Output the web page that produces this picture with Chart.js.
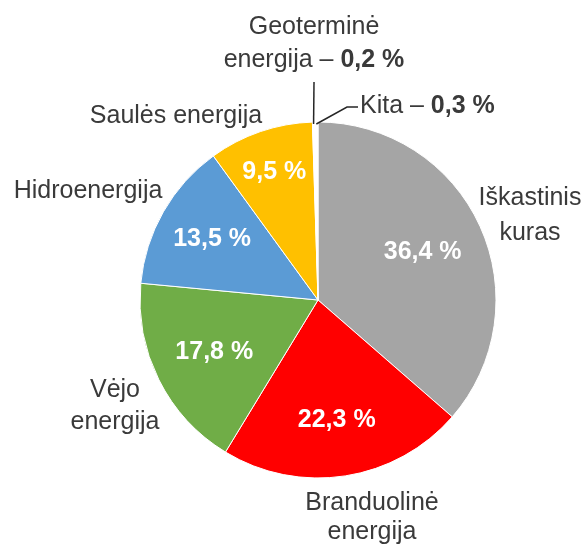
<!DOCTYPE html>
<html><head><meta charset="utf-8">
<script src="https://cdn.jsdelivr.net/npm/chart.js@4/dist/chart.umd.min.js"></script>
<style>html,body{margin:0;padding:0;background:#fff;} #wrap{width:584px;height:546px;}</style>
</head><body><div id="wrap"><canvas id="c" width="584" height="546"></canvas></div>
<script>
// ---- data ----
const categories = ['Iškastinis kuras', 'Branduolinė energija', 'Vėjo energija', 'Hidroenergija', 'Saulės energija', 'Geoterminė energija', 'Kita'];
const shares = [36.4, 22.3, 17.8, 13.5, 9.5, 0.2, 0.3];
// label text lines ({v} = bold value)
const outerLabelLines = [
  ['Iškastinis', 'kuras'],
  ['Branduolinė', 'energija'],
  ['Vėjo', 'energija'],
  ['Hidroenergija'],
  ['Saulės energija'],
  ['Geoterminė', 'energija – {v}'],
  ['Kita – {v}']
];

// ---- styles / placement ----
const sliceColors = ['#A5A5A5', '#FF0000', '#70AD47', '#5B9BD5', '#FFC000', '#FFFFFF', '#FFFFFF'];
const outerLabelPlace = [
  {x: 530, base: [205, 240], align: 'center'},
  {x: 372, base: [510, 539], align: 'center'},
  {x: 115, base: [397, 429], align: 'center'},
  {x: 88,  base: [198], align: 'center'},
  {x: 176, base: [123], align: 'center'},
  {x: 314, base: [34, 67], align: 'center'},
  {x: 360, base: [113], align: 'left'}
];
const innerRadiusFrac = [0.646, 0.685, 0.652, 0.685, 0.758];
const leaders = {5: [[314, 82]], 6: [[347, 107], [358, 107]]};
const TEXT_COLOR = '#3A3A3A';
const FONT = '"Liberation Sans", Arial, sans-serif';

function fmt(v) { return v.toFixed(1).replace('.', ',') + ' %'; }

const labelPlugin = {
  id: 'pieLabels',
  afterDatasetsDraw(chart) {
    const ctx = chart.ctx;
    const arcs = chart.getDatasetMeta(0).data;
    ctx.save();
    // inner labels
    ctx.fillStyle = '#FFFFFF';
    ctx.font = 'bold 25px ' + FONT;
    ctx.textAlign = 'center';
    ctx.textBaseline = 'middle';
    arcs.forEach((arc, i) => {
      if (shares[i] < 1) return;
      const mid = (arc.startAngle + arc.endAngle) / 2;
      const r = arc.outerRadius * innerRadiusFrac[i];
      ctx.fillText(fmt(shares[i]), arc.x + Math.cos(mid) * r, arc.y + Math.sin(mid) * r);
    });
    // leader lines
    ctx.strokeStyle = '#262626';
    ctx.lineWidth = 1.5;
    Object.keys(leaders).forEach(k => {
      const arc = arcs[k];
      const mid = (arc.startAngle + arc.endAngle) / 2;
      ctx.beginPath();
      ctx.moveTo(arc.x + Math.cos(mid) * (arc.outerRadius - 2), arc.y + Math.sin(mid) * (arc.outerRadius - 2));
      leaders[k].forEach(p => ctx.lineTo(p[0], p[1]));
      ctx.stroke();
    });
    // outer labels
    ctx.fillStyle = TEXT_COLOR;
    ctx.textBaseline = 'alphabetic';
    ctx.textAlign = 'left';
    outerLabelLines.forEach((lines, i) => {
      const pl = outerLabelPlace[i];
      lines.forEach((line, j) => {
        const parts = line.split('{v}');
        const segs = [{t: parts[0], b: false}];
        if (parts.length > 1) { segs.push({t: fmt(shares[i]), b: true}); if (parts[1]) segs.push({t: parts[1], b: false}); }
        let total = 0;
        segs.forEach(s => { ctx.font = (s.b ? 'bold ' : '') + '25px ' + FONT; s.w = ctx.measureText(s.t).width; total += s.w; });
        let x = pl.align === 'center' ? pl.x - total / 2 : pl.x;
        segs.forEach(s => {
          ctx.font = (s.b ? 'bold ' : '') + '25px ' + FONT;
          ctx.fillText(s.t, x, pl.base[j]);
          x += s.w;
        });
      });
    });
    ctx.restore();
  }
};

new Chart(document.getElementById('c'), {
  type: 'pie',
  data: {
    labels: categories,
    datasets: [{
      data: shares,
      backgroundColor: sliceColors,
      borderColor: '#FFFFFF',
      borderWidth: 1
    }]
  },
  options: {
    responsive: false,
    animation: false,
    radius: 178,
    layout: {padding: {left: 140, right: 88, top: 122, bottom: 68}},
    plugins: {legend: {display: false}, tooltip: {enabled: false}, title: {display: false}}
  },
  plugins: [labelPlugin]
});
</script>
</body></html>
